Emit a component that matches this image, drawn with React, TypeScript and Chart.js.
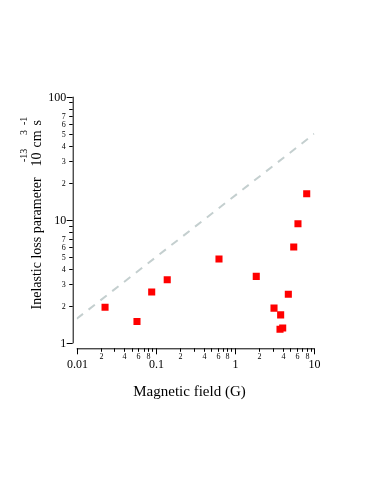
import React, { useEffect, useRef } from "react";
import { Chart, registerables } from "chart.js";

Chart.register(...registerables);

// ---- data ----
const fieldG = [0.0228, 0.0577, 0.0885, 0.139, 0.626, 1.85, 3.1, 3.76, 3.69, 3.99, 4.7, 5.5, 6.22, 8.02];
const lossParam = [1.96, 1.5, 2.61, 3.28, 4.83, 3.49, 1.93, 1.7, 1.3, 1.33, 2.5, 6.04, 9.33, 16.3];
const limitX = [0.01, 10];
const limitY = [1.58, 50];

const xMajorTicks = [0.01, 0.1, 1, 10];
const xMajorLabels = ["0.01", "0.1", "1", "10"];
const xDecades = [0.01, 0.1, 1];
const xMinorMult = [2, 3, 4, 5, 6, 7, 8, 9];
const xMinorLabeled = [2, 4, 6, 8];

const yMajorTicks = [1, 10, 100];
const yMajorLabels = ["1", "10", "100"];
const yDecades = [1, 10];
const yMinorMult = [2, 3, 4, 5, 6, 7, 8, 9];
const yMinorLabeled = [2, 3, 4, 5, 6, 7];

const xTitle = "Magnetic field (G)";
const yTitleMain = "Inelastic loss parameter";
const yTitleUnit = ["10", "cm", "s"];
const yTitleSup = ["-13", "3", "-1"];

const SERIF = "'Liberation Serif', 'Times New Roman', serif";

const axesPlugin = {
  id: "igorAxes",
  afterDraw(chart: any) {
    const ctx = chart.ctx;
    const xs = chart.scales.x;
    const ys = chart.scales.y;
    const area = chart.chartArea;
    const axX = area.left - 4; // detached y axis
    const axY = area.bottom + 5; // detached x axis
    ctx.save();
    ctx.strokeStyle = "#000";
    ctx.fillStyle = "#000";
    ctx.lineWidth = 1;

    // x axis line
    ctx.beginPath();
    ctx.moveTo(xs.getPixelForValue(xMajorTicks[0]), axY + 0.5);
    ctx.lineTo(xs.getPixelForValue(xMajorTicks[xMajorTicks.length - 1]), axY + 0.5);
    ctx.stroke();
    // y axis line
    ctx.beginPath();
    ctx.moveTo(axX + 0.5, ys.getPixelForValue(yMajorTicks[0]));
    ctx.lineTo(axX + 0.5, ys.getPixelForValue(yMajorTicks[yMajorTicks.length - 1]));
    ctx.stroke();

    // x ticks
    ctx.textAlign = "center";
    ctx.textBaseline = "alphabetic";
    xMajorTicks.forEach((v, i) => {
      const px = Math.round(xs.getPixelForValue(v)) + 0.5;
      ctx.beginPath();
      ctx.moveTo(px, axY);
      ctx.lineTo(px, axY + 6);
      ctx.stroke();
      ctx.font = `12px ${SERIF}`;
      ctx.fillText(xMajorLabels[i], px, axY + 20);
    });
    xDecades.forEach((d) => {
      xMinorMult.forEach((m) => {
        const px = Math.round(xs.getPixelForValue(d * m)) + 0.5;
        ctx.beginPath();
        ctx.moveTo(px, axY);
        ctx.lineTo(px, axY + 3.5);
        ctx.stroke();
        if (xMinorLabeled.includes(m)) {
          ctx.font = `8px ${SERIF}`;
          ctx.fillText(String(m), px, axY + 10.5);
        }
      });
    });

    // y ticks
    ctx.textAlign = "right";
    ctx.textBaseline = "middle";
    yMajorTicks.forEach((v, i) => {
      const py = Math.round(ys.getPixelForValue(v)) + 0.5;
      ctx.beginPath();
      ctx.moveTo(axX, py);
      ctx.lineTo(axX - 6, py);
      ctx.stroke();
      ctx.font = `12px ${SERIF}`;
      ctx.fillText(yMajorLabels[i], axX - 6.5, py);
    });
    yDecades.forEach((d) => {
      yMinorMult.forEach((m) => {
        const py = Math.round(ys.getPixelForValue(d * m)) + 0.5;
        ctx.beginPath();
        ctx.moveTo(axX, py);
        ctx.lineTo(axX - 3.5, py);
        ctx.stroke();
        if (yMinorLabeled.includes(m)) {
          ctx.font = `8px ${SERIF}`;
          ctx.fillText(String(m), axX - 7, py);
        }
      });
    });

    // x title
    ctx.textAlign = "center";
    ctx.textBaseline = "alphabetic";
    ctx.font = `15px ${SERIF}`;
    ctx.fillText(xTitle, 189.5, 395.5);

    // y title (rotated, with superscripts)
    const rot = (text: string, bx: number, by: number, font: string) => {
      ctx.save();
      ctx.translate(bx, by);
      ctx.rotate(-Math.PI / 2);
      ctx.font = font;
      ctx.textAlign = "left";
      ctx.textBaseline = "alphabetic";
      ctx.fillText(text, 0, 0);
      ctx.restore();
    };
    const mainFont = `14px ${SERIF}`;
    const supFont = `10px ${SERIF}`;
    rot(yTitleMain, 40.5, 309.5, mainFont);
    rot(yTitleUnit[0], 40.5, 166.5, mainFont);
    rot(yTitleUnit[1], 40.5, 147.5, mainFont);
    rot(yTitleUnit[2], 40.5, 125.5, mainFont);
    rot(yTitleSup[0], 27, 162, supFont);
    rot(yTitleSup[1], 27, 135, supFont);
    rot(yTitleSup[2], 27, 125, supFont);

    ctx.restore();
  },
};

export default function App() {
  const ref = useRef<HTMLCanvasElement | null>(null);
  useEffect(() => {
    if (!ref.current) return;
    const chart = new Chart(ref.current, {
      type: "scatter",
      data: {
        datasets: [
          {
            type: "line",
            data: limitX.map((x, i) => ({ x, y: limitY[i] })),
            borderColor: "#c4cfcf",
            borderWidth: 2,
            borderDash: [8, 7],
            pointRadius: 0,
            fill: false,
          } as any,
          {
            data: fieldG.map((x, i) => ({ x, y: lossParam[i] })),
            backgroundColor: "#ff0000",
            borderWidth: 0,
            pointStyle: "rect",
            pointRadius: 5,
          },
        ],
      },
      options: {
        responsive: false,
        animation: false,
        devicePixelRatio: 1,
        layout: { padding: { left: 76.7, top: 96.7, right: 73.7, bottom: 158.7 } },
        plugins: { legend: { display: false }, tooltip: { enabled: false } },
        scales: {
          x: { type: "logarithmic", min: 0.01, max: 10, display: false },
          y: { type: "logarithmic", min: 1, max: 100, display: false },
        },
      },
      plugins: [axesPlugin],
    });
    return () => chart.destroy();
  }, []);
  return (
    <div style={{ position: "fixed", left: 0, top: 0, width: 388, height: 502, background: "#fff" }}>
      <canvas ref={ref} width={388} height={502} style={{ width: 388, height: 502 }} />
    </div>
  );
}
